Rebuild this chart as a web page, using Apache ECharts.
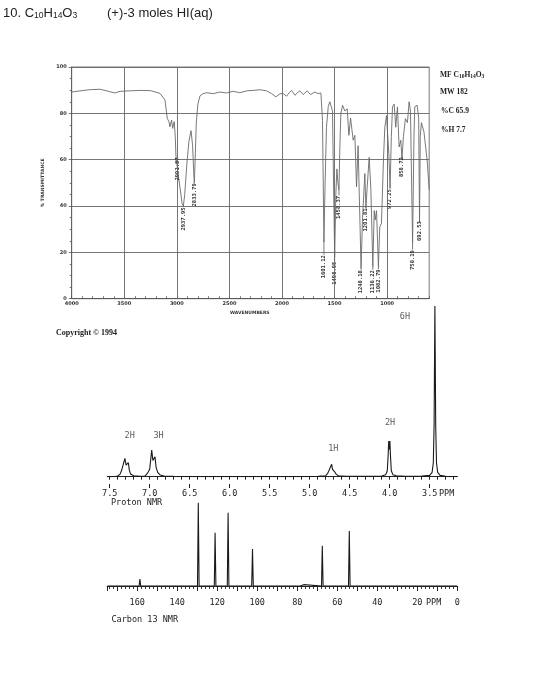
<!DOCTYPE html>
<html>
<head>
<meta charset="utf-8">
<script src="https://cdn.jsdelivr.net/npm/echarts@6/dist/echarts.min.js"></script>
<style>html,body{margin:0;padding:0;background:#fff}#c{width:543px;height:700px}</style>
</head>
<body>
<div id="c"></div>
<script>
// ---------- IR spectrum (wavenumber cm-1, %T) ----------
const irWavenumber = [4000,3920,3830,3730,3650,3590,3540,3450,3350,3250,3160,3113,3091,3075,3066,3050,3040,3025,3015,3009,2992,2970,2950,2938,2925,2905,2885,2865,2850,2840,2834,2826,2815,2800,2780,2760,2717,2654,2590,2527,2464,2400,2337,2273,2210,2147,2099,2058,2020,1988,1957,1930,1909,1877,1850,1830,1798,1760,1729,1687,1656,1630,1615,1601,1590,1577,1560,1545,1520,1499,1488,1478,1468,1458,1450,1440,1424,1402,1380,1364,1348,1323,1307,1291,1276,1265,1248,1234,1212,1202,1190,1171,1155,1136,1123,1114,1101,1083,1070,1054,1035,1022,1006,984,972,960,949,933,918,902,886,870,859,845,826,807,791,778,758,745,737,715,700,692,685,674,650,620,600];
const irTransmittance = [89.2,89.7,90.2,90.4,89.5,88.8,89.5,89.7,89.9,89.8,88.6,85.8,77.8,76.4,74.2,77.1,73.5,76.4,69.9,62,55,48,41,40,45,58,68,72.5,66,55,50,60,76,84,87.5,88.3,88.9,88.5,89.2,88.8,89.5,88.9,89.7,89.9,90.2,89.7,88.5,87.1,88.5,88.5,87.4,89,89.9,87.8,89,89.7,88.1,89.7,88.1,89.2,88.5,88.8,77,24.6,50,74,83,85,81,18,45,56,50,47,65,80,83.5,81,82,70.5,78,68.4,70.5,48.3,66,45,13,35,54,39,48,61,47.6,13.8,38,34,38,13.8,31,32.5,60,74,79,62.6,47.6,70,82.8,84,74,82.8,65.5,68.4,60.5,70,77.7,76,85,81,24,70,82.8,83.5,78,33,70,76,72,60,47];
const irPeakText = ['2991.87','2937.95','2833.79','1601.12','1498.95','1458.37','1248.18','1201.81','1136.22','1082.79','972.25','858.72','758.19','692.53'];
const irPeakMin   = [61,40,50,25,18,47,13,39,13.8,13.8,47.6,60.5,24,33];
const irPeakLabel = [56.0,34.4,44.8,13.8,11.0,39.4,7.3,34.0,7.3,7.6,43.0,56.8,16.7,29.2];
const irGridX = [3500,3000,2500,2000,1500,1000];
const irXLabels = [4000,3500,3000,2500,2000,1500,1000];

// ---------- Proton NMR (ppm, relative intensity) ----------
const hPpm = [7.53,7.45,7.40,7.37,7.35,7.335,7.31,7.295,7.28,7.267,7.255,7.24,7.20,7.12,7.06,7.035,7.017,7.0,6.975,6.96,6.95,6.934,6.92,6.90,6.87,6.82,6.70,6.40,6.00,5.60,5.20,4.90,4.80,4.775,4.755,4.745,4.735,4.725,4.715,4.705,4.69,4.67,4.64,4.55,4.30,4.10,4.05,4.03,4.02,4.012,4.005,3.998,3.99,3.98,3.96,3.92,3.80,3.60,3.50,3.47,3.455,3.445,3.438,3.435,3.432,3.425,3.415,3.40,3.37,3.30,3.155];
const hInt = [0,0,0.4,1.5,3.9,4.5,10.7,6.8,7.5,8.2,4.0,1.6,0.5,0.2,0.4,1.6,2.9,4.5,15.6,9.5,9.5,11.7,5.5,2.5,1.0,0.4,0.2,0,0,0,0,0.2,0.6,2.0,4.0,5.2,4.2,7.3,4.3,5.0,3.0,1.5,0.6,0.2,0.2,0.4,1.2,3.5,12,20.9,16,20.9,12,3.5,1.2,0.5,0.3,0.4,0.8,2.5,8,30,80,100,80,30,8,2.5,0.8,0.2,0];
const hIntegrals = ['2H','3H','1H','2H','6H'];
const hIntegralPpm = [7.25,6.89,4.705,3.996,3.81];
const hIntegralY = [23.8,23.8,16.2,31.6,93.4];
const hTickLabels = [7.5,7.0,6.5,6.0,5.5,5.0,4.5,4.0,3.5];

// ---------- Carbon 13 NMR (ppm, relative intensity) ----------
const cPpm = [175,159.1,158.7,158.3,129.9,129.5,129.1,121.5,121.1,120.7,115.0,114.6,114.2,102.8,102.4,102.0,78.5,77.6,76.8,75.8,67.9,67.5,67.1,54.4,54.0,53.6,0];
const cInt = [0,0,8.4,0,0,100,0,0,64,0,0,88,0,0,44.4,0,0,1.6,1.6,0,0,48.4,0,0,66,0,0];
const cTickLabels = [160,140,120,100,80,60,40,20,0];

// tick position helper (axis decoration only)
function range(a,b,step){const r=[];for(let v=a;v<=b+1e-9;v+=step){r.push(Math.round(v*1000)/1000);}return r;}
const hMinorTicks = range(3.2,7.5,0.1);

const chart = echarts.init(document.getElementById('c'), null, {renderer:'canvas'});
const mono = 'DejaVu Sans Mono';
const serif = 'Liberation Serif';

const option = {
  backgroundColor:'#fff',
  animation:false,
  grid:[
    {left:71.7, top:67, width:357.5, height:231.7, show:true, borderColor:'#555', borderWidth:0.8, backgroundColor:'transparent'},
    {left:107.3, top:306, width:350, height:170.7},
    {left:107.3, top:502.7, width:350, height:83.3}
  ],
  xAxis:[
    {gridIndex:0, type:'value', min:600, max:4000, interval:100, inverse:true,
     axisLine:{lineStyle:{color:'#555', width:0.8}},
     axisTick:{inside:true, length:2.5, lineStyle:{color:'#555', width:0.8}},
     axisLabel:{margin:3, fontSize:5, fontWeight:'bold', color:'#333', fontFamily:'DejaVu Sans',
       formatter:v=> irXLabels.indexOf(v)>=0 ? String(v) : ''},
     splitLine:{show:false}},
    {gridIndex:1, type:'value', min:3.155, max:7.53, inverse:true, position:'bottom', offset:7.3,
     axisLine:{lineStyle:{color:'#222', width:1.2}},
     axisTick:{customValues:hMinorTicks, length:3, lineStyle:{color:'#222', width:1}},
     axisLabel:{show:false}, splitLine:{show:false}},
    {gridIndex:1, type:'value', min:3.155, max:7.53, inverse:true, position:'bottom', offset:7.3,
     axisLine:{show:false},
     axisTick:{customValues:hTickLabels, length:4, lineStyle:{color:'#222', width:1}},
     axisLabel:{customValues:hTickLabels, formatter:v=>v.toFixed(1), fontFamily:mono, fontSize:8.5, color:'#222', margin:5.5},
     splitLine:{show:false}},
    {gridIndex:2, type:'value', min:0, max:175, interval:10, inverse:true, position:'bottom', offset:7.3,
     axisLine:{lineStyle:{color:'#222', width:1.2}},
     axisTick:{length:5, lineStyle:{color:'#222', width:1}},
     minorTick:{show:true, splitNumber:5, length:3, lineStyle:{color:'#222', width:0.9}},
     axisLabel:{formatter:v=> cTickLabels.indexOf(v)>=0 ? String(v) : '', fontFamily:mono, fontSize:8.5, color:'#222', margin:5, showMaxLabel:false},
     splitLine:{show:false}}
  ],
  yAxis:[
    {gridIndex:0, type:'value', min:0, max:100, interval:20,
     axisLine:{show:true, lineStyle:{color:'#555', width:0.8}},
     axisTick:{show:true, length:3, lineStyle:{color:'#555', width:0.8}},
     minorTick:{show:true, splitNumber:4, length:2, lineStyle:{color:'#555', width:0.8}},
     axisLabel:{fontSize:5, fontWeight:'bold', color:'#333', margin:5, fontFamily:'DejaVu Sans'},
     splitLine:{show:true, lineStyle:{color:'#666', width:0.9}},
     name:'% TRANSMITTANCE', nameLocation:'middle', nameGap:24, nameRotate:90,
     nameTextStyle:{fontSize:4.5, fontWeight:'bold', color:'#333', fontFamily:'DejaVu Sans'}},
    {gridIndex:1, type:'value', min:0, max:100, show:false},
    {gridIndex:2, type:'value', min:0, max:100, show:false}
  ],
  series:[
    {type:'line', xAxisIndex:0, yAxisIndex:0, showSymbol:false, symbol:'none',
     data: irWavenumber.map((w,i)=>[w, irTransmittance[i]]),
     lineStyle:{color:'#6a6a6a', width:0.9},
     markLine:{silent:true, symbol:'none', label:{show:false},
       lineStyle:{color:'#666', width:0.9, type:'solid'},
       data: irGridX.map(v=>({xAxis:v}))},
     z:3},
    {type:'custom', xAxisIndex:0, yAxisIndex:0,
     data: irPeakText.map((t,i)=>[parseFloat(t), irPeakMin[i], irPeakLabel[i]]),
     renderItem:function(params, api){
       const txt = irPeakText[params.dataIndex];
       const p = api.coord([api.value(0), api.value(1)]);
       const q = api.coord([api.value(0), api.value(2)]);
       const half = txt.length*5.5*0.6/2 + 0.5;
       return {type:'group', children:[
         {type:'line', shape:{x1:p[0], y1:p[1], x2:p[0], y2:q[1]-half}, style:{stroke:'#555', lineWidth:0.8}},
         {type:'text', x:q[0], y:q[1], rotation:Math.PI/2,
          style:{text:txt, fontSize:5.5, fontFamily:mono, fontWeight:'bold', fill:'#333', align:'center', verticalAlign:'middle'}}
       ]};
     }, z:4},
    {type:'line', xAxisIndex:2, yAxisIndex:1, showSymbol:false, symbol:'none',
     data: hPpm.map((p,i)=>[p, hInt[i]]),
     lineStyle:{color:'#1a1a1a', width:1.1}},
    {type:'scatter', xAxisIndex:2, yAxisIndex:1, symbolSize:1, itemStyle:{color:'rgba(0,0,0,0)'},
     data: hIntegrals.map((t,i)=>[hIntegralPpm[i], hIntegralY[i], t]),
     label:{show:true, position:'inside', formatter:p=>p.value[2], fontFamily:mono, fontSize:8.5, color:'#333'}},
    {type:'line', xAxisIndex:3, yAxisIndex:2, showSymbol:false, symbol:'none',
     data: cPpm.map((p,i)=>[p, cInt[i]]),
     lineStyle:{color:'#1a1a1a', width:1.1}}
  ],
  graphic:[
    {type:'text', left:3, top:7, style:{
      text:'10. C{s|10}H{s|14}O{s|3}', fontFamily:'Liberation Sans', fontSize:13, fill:'#222',
      rich:{s:{fontSize:8.5, fontFamily:'Liberation Sans', verticalAlign:'bottom', padding:[5,0,0,0], fill:'#222'}}}},
    {type:'text', left:107, top:7, style:{text:'(+)-3 moles HI(aq)', fontFamily:'Liberation Sans', fontSize:13, fill:'#222'}},
    {type:'text', left:440, top:71, style:{
      text:'MF C{s|10}H{s|14}O{s|3}', fontFamily:serif, fontWeight:'bold', fontSize:7.5, fill:'#222',
      rich:{s:{fontSize:5.5, fontFamily:serif, fontWeight:'bold', verticalAlign:'bottom', padding:[3,0,0,0], fill:'#222'}}}},
    {type:'text', left:440, top:88, style:{text:'MW 182', fontFamily:serif, fontWeight:'bold', fontSize:7.5, fill:'#222'}},
    {type:'text', left:441, top:107.5, style:{text:'%C 65.9', fontFamily:serif, fontWeight:'bold', fontSize:7.5, fill:'#222'}},
    {type:'text', left:441, top:126, style:{text:'%H 7.7', fontFamily:serif, fontWeight:'bold', fontSize:7.5, fill:'#222'}},
    {type:'text', left:56, top:328.5, style:{text:'Copyright \u00A9 1994', fontFamily:serif, fontWeight:'bold', fontSize:8, fill:'#222'}},
    {type:'text', left:230, top:310.5, style:{text:'WAVENUMBERS', fontFamily:'DejaVu Sans', fontWeight:'bold', fontSize:4.5, fill:'#333'}},
    {type:'text', left:439, top:489.5, style:{text:'PPM', fontFamily:mono, fontSize:8.5, fill:'#222'}},
    {type:'text', left:111, top:498, style:{text:'Proton NMR', fontFamily:mono, fontSize:8.5, fill:'#222'}},
    {type:'text', left:426, top:598, style:{text:'PPM', fontFamily:mono, fontSize:8.5, fill:'#222'}},
    {type:'text', left:111.5, top:615.5, style:{text:'Carbon 13 NMR', fontFamily:mono, fontSize:8.5, fill:'#222'}}
  ]
};
chart.setOption(option);
</script>
</body>
</html>
